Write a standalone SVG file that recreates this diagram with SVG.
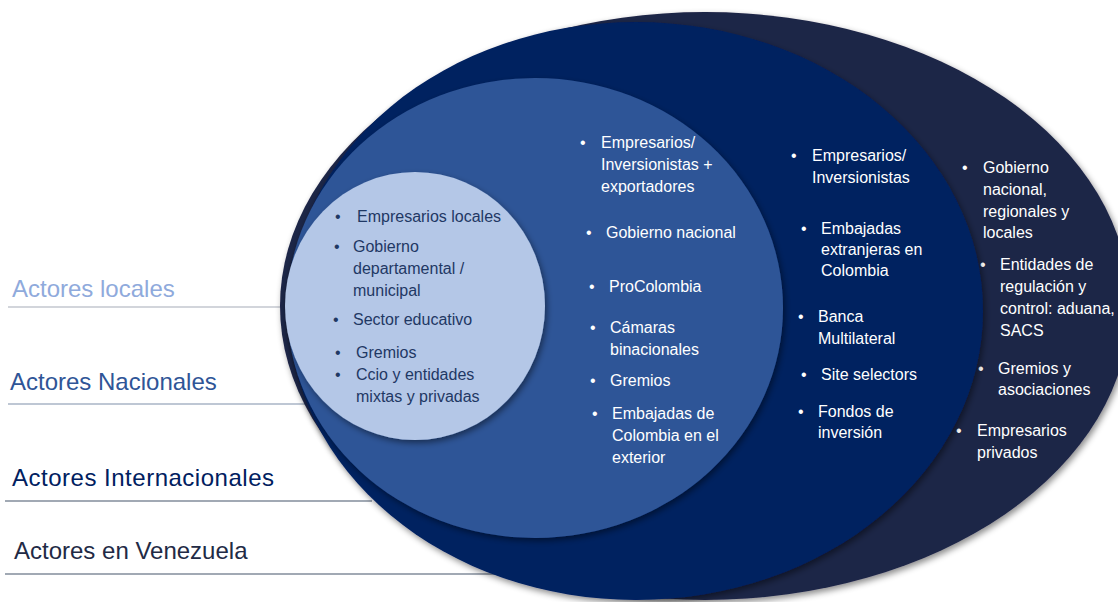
<svg xmlns="http://www.w3.org/2000/svg" width="1118" height="602" viewBox="0 0 1118 602">
<defs>
<filter id="sh" x="-10%" y="-10%" width="120%" height="120%">
<feDropShadow dx="2" dy="3" stdDeviation="3" flood-color="#000" flood-opacity="0.45"/>
</filter>
</defs>
<style>
text{font-family:"Liberation Sans",Arial,sans-serif;}
.t{font-size:16px;fill:#fff;}
.d{fill:#1F3864;}
.lab{font-size:24px;}
.ln{stroke-width:1.2;fill:none;}
</style>
<rect width="1118" height="602" fill="#fff"/>
<g id="connectors">
<line class="ln" x1="8" y1="307" x2="290" y2="307" stroke="#A5ABB8"/>
<line class="ln" x1="8" y1="404" x2="305" y2="404" stroke="#7F8FA9"/>
<line class="ln" x1="5" y1="501" x2="372" y2="501" stroke="#44546A"/>
<line class="ln" x1="5" y1="574" x2="495" y2="574" stroke="#44546A"/>
</g>
<g id="venezuela">
<ellipse cx="705" cy="306" rx="425" ry="294" fill="#1F2547" filter="url(#sh)"/>
<text class="t" x="962" y="173">•</text>
<text class="t" x="983" y="173">Gobierno</text>
<text class="t" x="983" y="195">nacional,</text>
<text class="t" x="983" y="217">regionales  y</text>
<text class="t" x="983" y="238">locales</text>
<text class="t" x="980" y="270">•</text>
<text class="t" x="1000" y="270">Entidades de</text>
<text class="t" x="1000" y="292">regulación y</text>
<text class="t" x="1000" y="314">control: aduana,</text>
<text class="t" x="1000" y="336">SACS</text>
<text class="t" x="978" y="374">•</text>
<text class="t" x="998" y="374">Gremios y</text>
<text class="t" x="998" y="395">asociaciones</text>
<text class="t" x="956" y="436">•</text>
<text class="t" x="977" y="436">Empresarios</text>
<text class="t" x="977" y="458">privados</text>
</g>
<g id="internacionales">
<ellipse cx="636" cy="311" rx="347" ry="289" fill="#002060" filter="url(#sh)"/>
<text class="t" x="791" y="161">•</text>
<text class="t" x="812" y="161">Empresarios/</text>
<text class="t" x="812" y="183">Inversionistas</text>
<text class="t" x="801" y="234">•</text>
<text class="t" x="821" y="234">Embajadas</text>
<text class="t" x="821" y="255">extranjeras en</text>
<text class="t" x="821" y="276">Colombia</text>
<text class="t" x="798" y="322">•</text>
<text class="t" x="818" y="322">Banca</text>
<text class="t" x="818" y="344">Multilateral</text>
<text class="t" x="801" y="380">•</text>
<text class="t" x="821" y="380">Site selectors</text>
<text class="t" x="798" y="417">•</text>
<text class="t" x="818" y="417">Fondos de</text>
<text class="t" x="818" y="438">inversión</text>
</g>
<g id="nacionales">
<ellipse cx="535" cy="308" rx="248" ry="230" fill="#2F5597" filter="url(#sh)"/>
<text class="t" x="580" y="148">•</text>
<text class="t" x="601" y="148">Empresarios/</text>
<text class="t" x="601" y="170">Inversionistas +</text>
<text class="t" x="601" y="192">exportadores</text>
<text class="t" x="586" y="238">•</text>
<text class="t" x="606" y="238">Gobierno nacional</text>
<text class="t" x="589" y="292">•</text>
<text class="t" x="609" y="292">ProColombia</text>
<text class="t" x="590" y="333">•</text>
<text class="t" x="610" y="333">Cámaras</text>
<text class="t" x="610" y="355">binacionales</text>
<text class="t" x="590" y="386">•</text>
<text class="t" x="610" y="386">Gremios</text>
<text class="t" x="592" y="419">•</text>
<text class="t" x="612" y="419">Embajadas de</text>
<text class="t" x="612" y="441">Colombia en el</text>
<text class="t" x="612" y="463">exterior</text>
</g>
<g id="locales">
<ellipse cx="415" cy="306" rx="130" ry="134" fill="#B4C7E7" filter="url(#sh)"/>
<text class="t d" x="335" y="222">•</text>
<text class="t d" x="357" y="222">Empresarios locales</text>
<text class="t d" x="334" y="252">•</text>
<text class="t d" x="353" y="252">Gobierno</text>
<text class="t d" x="353" y="274">departamental /</text>
<text class="t d" x="353" y="296">municipal</text>
<text class="t d" x="333" y="325">•</text>
<text class="t d" x="353" y="325">Sector educativo</text>
<text class="t d" x="335" y="358">•</text>
<text class="t d" x="356" y="358">Gremios</text>
<text class="t d" x="335" y="380">•</text>
<text class="t d" x="356" y="380">Ccio y entidades</text>
<text class="t d" x="356" y="402">mixtas y privadas</text>
</g>
<g id="labels">
<text class="lab" x="12" y="297" fill="#8FAADC">Actores locales</text>
<text class="lab" x="10" y="390" fill="#2F5597">Actores Nacionales</text>
<text class="lab" x="12" y="486" fill="#002060" textLength="262">Actores Internacionales</text>
<text class="lab" x="14" y="559" fill="#222A45">Actores en Venezuela</text>
</g>
</svg>
